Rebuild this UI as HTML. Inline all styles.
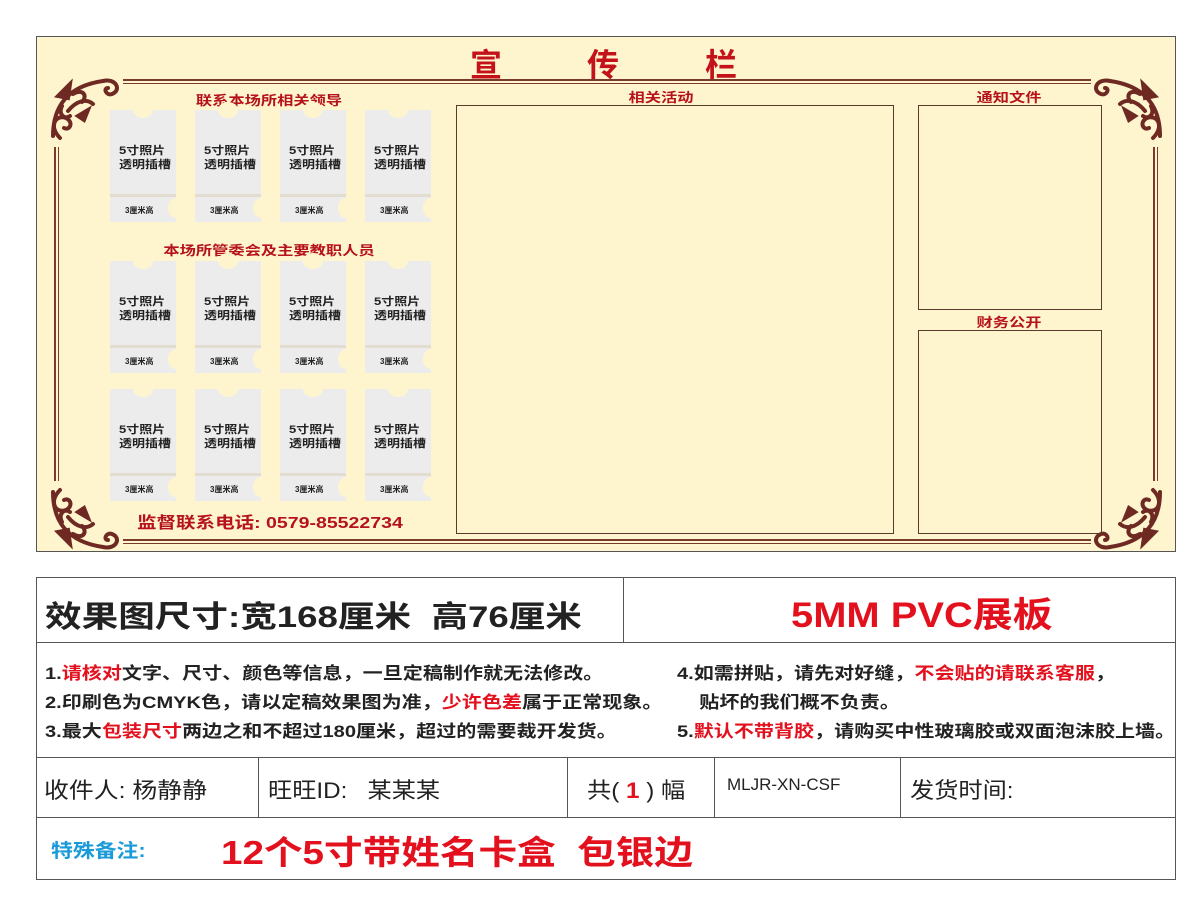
<!DOCTYPE html>
<html><head><meta charset="utf-8"><style>
*{margin:0;padding:0;box-sizing:border-box}
body{width:1189px;height:903px;background:#fff;position:relative;font-family:"Liberation Sans","Noto Sans CJK SC",sans-serif;overflow:hidden}
.a{position:absolute}
.board{left:36px;top:36px;width:1140px;height:516px;background:#fef5cf;border:1.5px solid #555}
.hl{position:absolute;height:5px;border-top:2px solid #7a3b2e;border-bottom:1.5px solid #7a3b2e}
.vl{position:absolute;width:5px;border-left:2px solid #7a3b2e;border-right:1.5px solid #7a3b2e}
.lbl{position:absolute;color:#b5121b;font-weight:bold;font-size:13px;white-space:nowrap;transform:translateX(-50%) scaleX(1.25)}
.card{position:absolute;width:66px;height:112px;background:#ececec}
.card:before{content:"";position:absolute;left:23px;top:-8px;width:20px;height:16px;border-radius:50%;background:#fef5cf}
.card:after{content:"";position:absolute;right:-8px;top:88px;width:16px;height:20px;border-radius:50%;background:#fef5cf}
.card .sep{position:absolute;left:0;right:0;top:84px;height:3px;background:#e2ddd0}
.card .t{position:absolute;left:9px;top:34px;font-size:11px;font-weight:bold;line-height:14px;color:#222;transform:scaleX(1.18);transform-origin:left}
.card .b{position:absolute;left:15px;top:95px;font-size:8px;font-weight:bold;color:#222}
.box{position:absolute;border:1px solid #5a3a2a}
.tb{position:absolute;border-color:#555;border-style:solid;border-width:0}
.bt{position:absolute;white-space:nowrap;color:#222;transform-origin:left}
.r{color:#e3101e}
</style></head><body>
<div class="a board"></div>
<div class="a" style="left:470px;top:40px;font-size:32px;font-weight:bold;color:#c4121a">宣</div>
<div class="a" style="left:587px;top:40px;font-size:32px;font-weight:bold;color:#c4121a">传</div>
<div class="a" style="left:705px;top:40px;font-size:32px;font-weight:bold;color:#c4121a">栏</div>
<div class="hl" style="left:123px;width:968px;top:79px"></div>
<div class="hl" style="left:123px;width:968px;top:539px"></div>
<div class="vl" style="left:54px;top:147px;height:334px"></div>
<div class="vl" style="left:1153px;top:147px;height:334px"></div>
<svg class="a" style="left:0;top:0" width="1189" height="560">
<defs><g id="orn" fill="none" stroke="#6e2a22" stroke-width="4" stroke-linecap="round">
<path d="M5 60 C5 30 20 10 55 5"/><path d="M12 62 C0 50 8 38 18 42 C26 46 22 55 16 52"/>
<path d="M55 5 C68 2 74 14 64 18 C58 20 55 12 60 12"/>
<path d="M10 20 L22 8 L20 22 Z" fill="#6e2a22"/><path d="M20 35 C28 25 38 22 45 28"/>
<path d="M25 18 C35 12 40 20 34 26"/><path d="M14 30 C10 38 16 44 22 40"/>
<path d="M30 40 L40 34 L36 44Z" fill="#6e2a22"/></g></defs>
<use href="#orn" transform="translate(48,76)"/>
<use href="#orn" transform="translate(1165,76) scale(-1,1)"/>
<use href="#orn" transform="translate(48,552) scale(1,-1)"/>
<use href="#orn" transform="translate(1165,552) scale(-1,-1)"/>
</svg>
<div class="lbl" style="left:269px;top:90px">联系本场所相关领导</div>
<div class="lbl" style="left:269px;top:240px">本场所管委会及主要教职人员</div>
<div class="lbl" style="left:661px;top:87px">相关活动</div>
<div class="lbl" style="left:1009px;top:87px">通知文件</div>
<div class="lbl" style="left:1009px;top:312px">财务公开</div>
<div class="bt" style="left:137px;top:509px;font-size:16px;font-weight:bold;color:#b5121b;transform:scaleX(1.22)">监督联系电话: 0579-85522734</div>
<div class="box" style="left:456px;top:105px;width:438px;height:429px"></div>
<div class="box" style="left:918px;top:105px;width:184px;height:205px"></div>
<div class="box" style="left:918px;top:330px;width:184px;height:204px"></div>
<div class="card" style="left:110px;top:110px"><div class="sep"></div><div class="t">5寸照片<br>透明插槽</div><div class="b">3厘米高</div></div>
<div class="card" style="left:195px;top:110px"><div class="sep"></div><div class="t">5寸照片<br>透明插槽</div><div class="b">3厘米高</div></div>
<div class="card" style="left:280px;top:110px"><div class="sep"></div><div class="t">5寸照片<br>透明插槽</div><div class="b">3厘米高</div></div>
<div class="card" style="left:365px;top:110px"><div class="sep"></div><div class="t">5寸照片<br>透明插槽</div><div class="b">3厘米高</div></div>
<div class="card" style="left:110px;top:261px"><div class="sep"></div><div class="t">5寸照片<br>透明插槽</div><div class="b">3厘米高</div></div>
<div class="card" style="left:195px;top:261px"><div class="sep"></div><div class="t">5寸照片<br>透明插槽</div><div class="b">3厘米高</div></div>
<div class="card" style="left:280px;top:261px"><div class="sep"></div><div class="t">5寸照片<br>透明插槽</div><div class="b">3厘米高</div></div>
<div class="card" style="left:365px;top:261px"><div class="sep"></div><div class="t">5寸照片<br>透明插槽</div><div class="b">3厘米高</div></div>
<div class="card" style="left:110px;top:389px"><div class="sep"></div><div class="t">5寸照片<br>透明插槽</div><div class="b">3厘米高</div></div>
<div class="card" style="left:195px;top:389px"><div class="sep"></div><div class="t">5寸照片<br>透明插槽</div><div class="b">3厘米高</div></div>
<div class="card" style="left:280px;top:389px"><div class="sep"></div><div class="t">5寸照片<br>透明插槽</div><div class="b">3厘米高</div></div>
<div class="card" style="left:365px;top:389px"><div class="sep"></div><div class="t">5寸照片<br>透明插槽</div><div class="b">3厘米高</div></div>

<div class="tb" style="left:36px;top:577px;width:1140px;height:303px;border-width:1px"></div>
<div class="tb" style="left:36px;top:642px;width:1140px;border-top-width:1px"></div>
<div class="tb" style="left:36px;top:757px;width:1140px;border-top-width:1px"></div>
<div class="tb" style="left:36px;top:817px;width:1140px;border-top-width:1px"></div>
<div class="tb" style="left:623px;top:577px;height:65px;border-left-width:1px"></div>
<div class="tb" style="left:258px;top:757px;height:60px;border-left-width:1px"></div>
<div class="tb" style="left:567px;top:757px;height:60px;border-left-width:1px"></div>
<div class="tb" style="left:714px;top:757px;height:60px;border-left-width:1px"></div>
<div class="tb" style="left:900px;top:757px;height:60px;border-left-width:1px"></div>
<div class="bt" style="left:45px;top:592px;font-size:30px;font-weight:bold;transform:scaleX(1.22)">效果图尺寸:宽168厘米&nbsp; 高76厘米</div>
<div class="bt r" style="left:791px;top:587px;font-size:35px;font-weight:bold;transform:scaleX(1.14)">5MM PVC展板</div>
<div class="bt" style="left:45px;top:659px;font-size:17px;font-weight:bold;line-height:29px;transform:scaleX(1.18)">1.<span class="r">请核对</span>文字、尺寸、颜色等信息，一旦定稿制作就无法修改。<br>2.印刷色为CMYK色，请以定稿效果图为准，<span class="r">少许色差</span>属于正常现象。<br>3.最大<span class="r">包装尺寸</span>两边之和不超过180厘米，超过的需要裁开发货。</div>
<div class="bt" style="left:677px;top:659px;font-size:17px;font-weight:bold;line-height:29px;transform:scaleX(1.18)">4.如需拼贴，请先对好缝，<span class="r">不会贴的请联系客服</span>，<br>&nbsp;&nbsp;&nbsp; 贴坏的我们概不负责。<br>5.<span class="r">默认不带背胶</span>，请购买中性玻璃胶或双面泡沫胶上墙。</div>
<div class="bt" style="left:44px;top:773px;font-size:22px;transform:scaleX(1.13)">收件人: 杨静静</div>
<div class="bt" style="left:268px;top:773px;font-size:22px;transform:scaleX(1.1)">旺旺ID:&nbsp;&nbsp; 某某某</div>
<div class="bt" style="left:587px;top:773px;font-size:22px;transform:scaleX(1.1)">共( <b class="r">1</b> ) 幅</div>
<div class="bt" style="left:727px;top:775px;font-size:17px">MLJR-XN-CSF</div>
<div class="bt" style="left:910px;top:773px;font-size:22px;transform:scaleX(1.1)">发货时间:</div>
<div class="bt" style="left:51px;top:836px;font-size:19px;font-weight:bold;color:#1a9ad6;transform:scaleX(1.15)">特殊备注:</div>
<div class="bt r" style="left:221px;top:826px;font-size:33px;font-weight:bold;transform:scaleX(1.17)">12个5寸带姓名卡盒&nbsp; 包银边</div>
</body></html>
